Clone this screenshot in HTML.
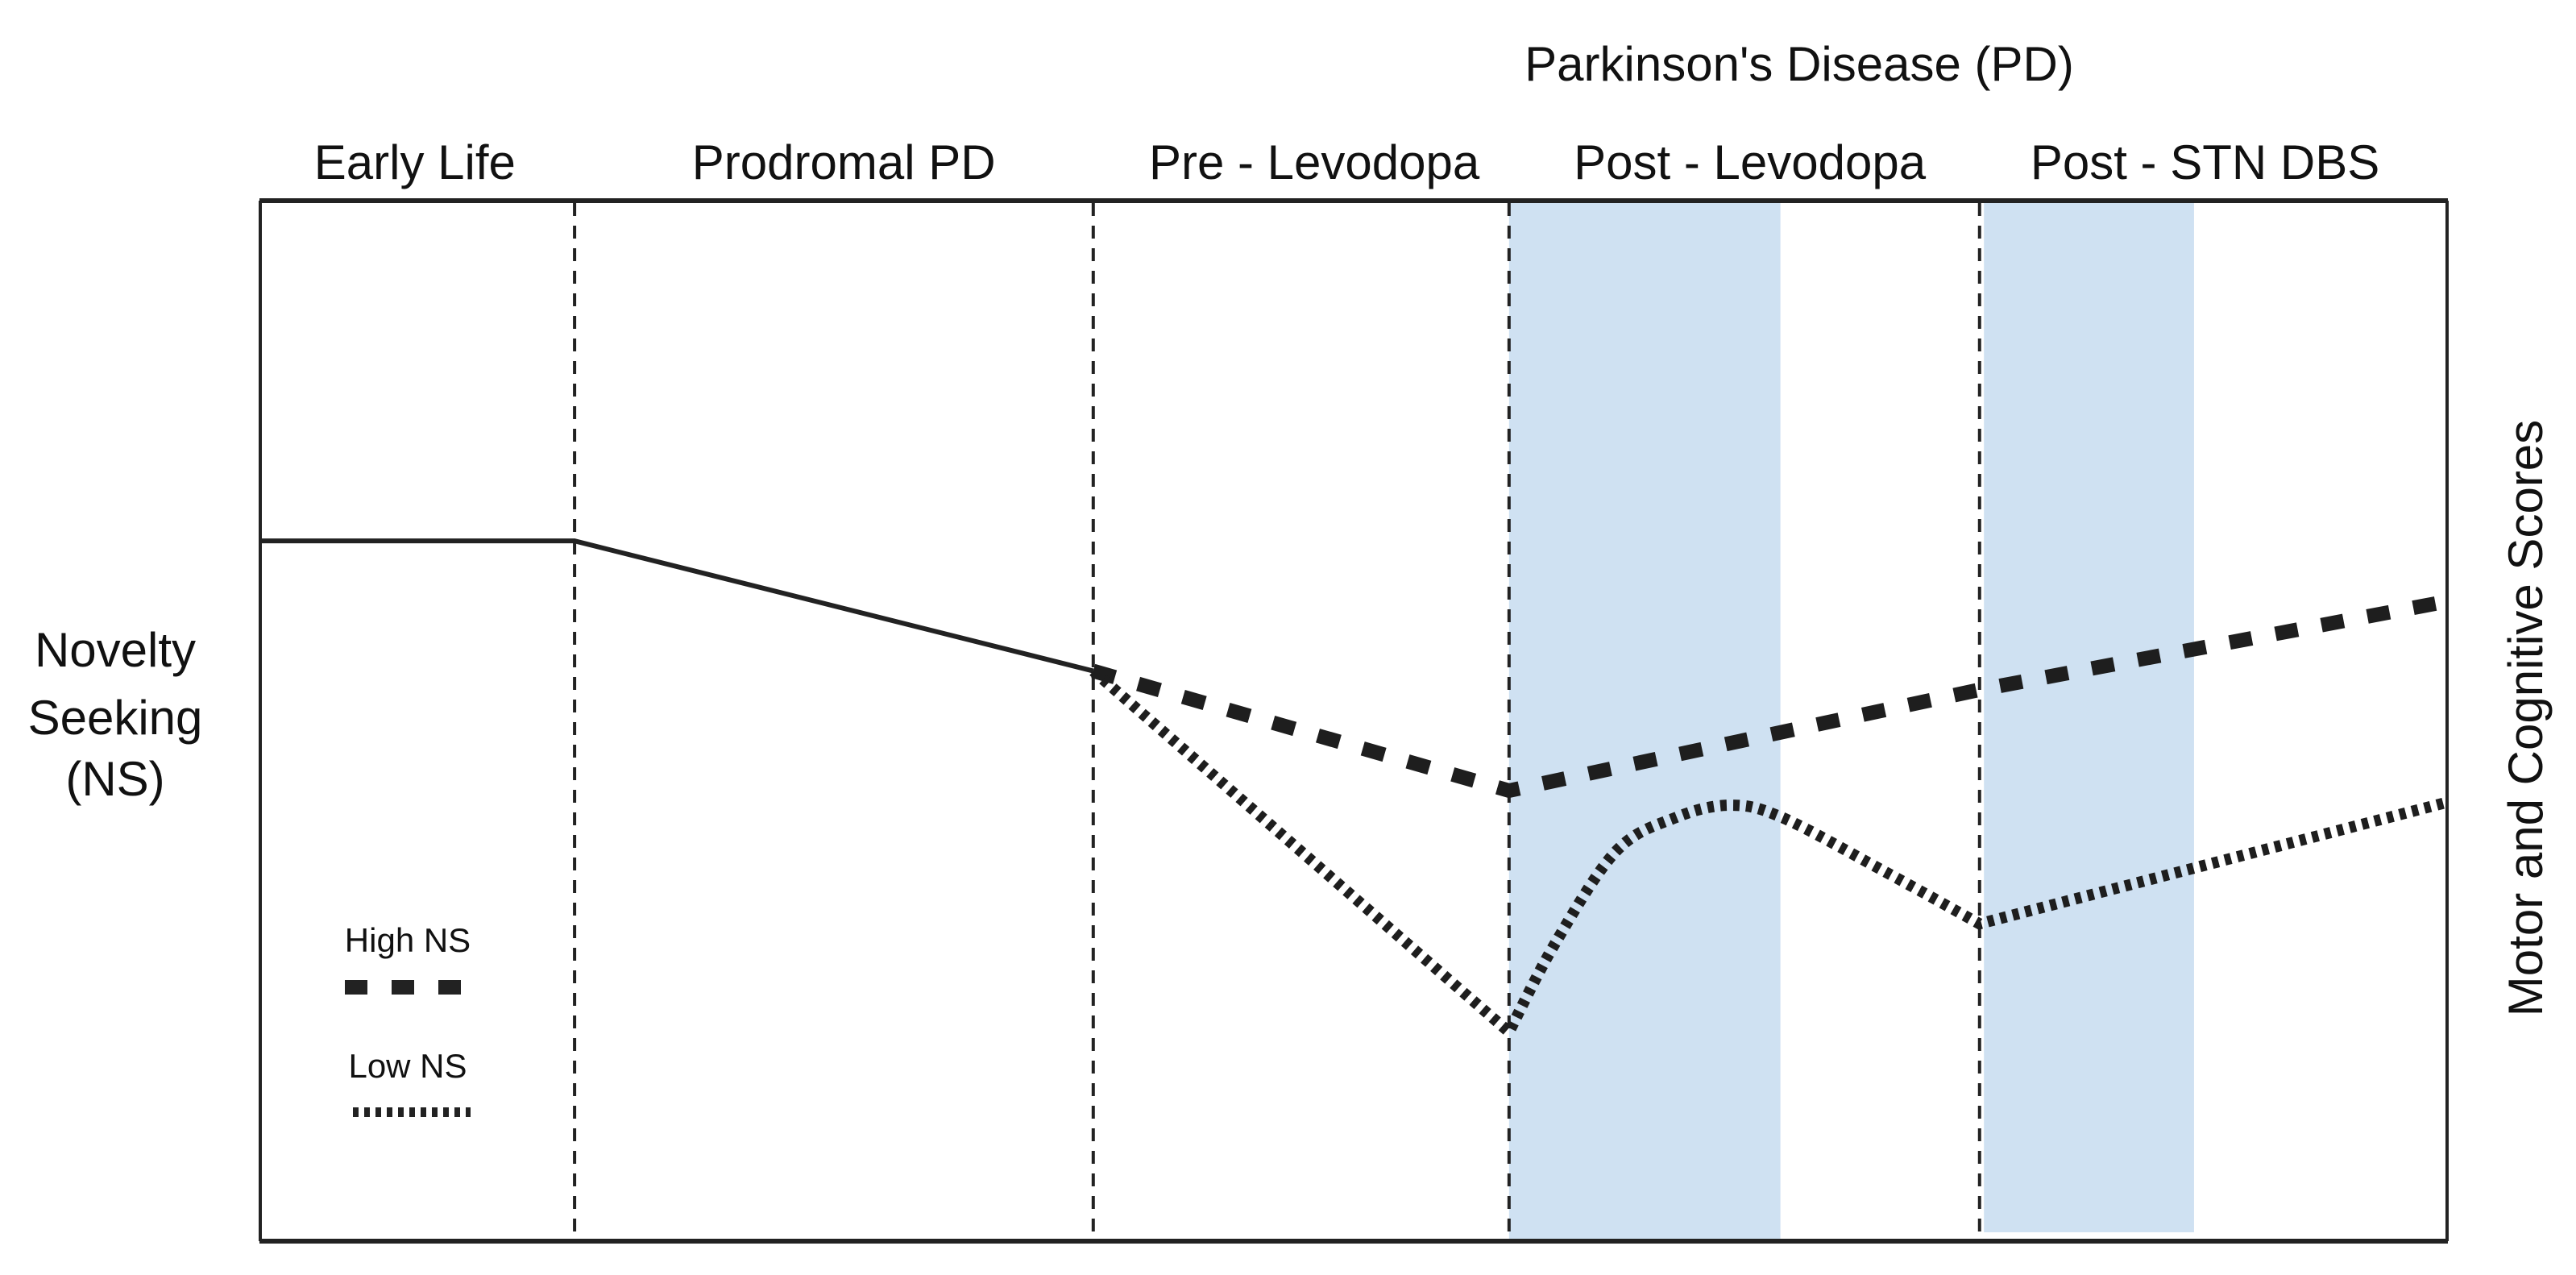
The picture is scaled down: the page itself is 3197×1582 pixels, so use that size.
<!DOCTYPE html>
<html><head><meta charset="utf-8"><style>
html,body{margin:0;padding:0;background:#fff;}
svg{display:block;font-family:"Liberation Sans",sans-serif;}
</style></head><body>
<svg id="chart" width="3197" height="1582" viewBox="0 0 3197 1582">
<g id="bands"></g>
<g id="dividers"></g>
<g id="frame">
  <line x1="322" y1="249" x2="3038" y2="249" stroke="#222" stroke-width="6"/>
  <line x1="322" y1="1540" x2="3038" y2="1540" stroke="#222" stroke-width="6"/>
  <line x1="323" y1="249" x2="323" y2="1540" stroke="#222" stroke-width="4"/>
  <line x1="3037" y1="249" x2="3037" y2="1540" stroke="#222" stroke-width="4"/>
</g>
<g id="series"></g>
<text x="2233" y="100" font-size="60" text-anchor="middle" fill="#111">Parkinson's Disease (PD)</text>
<g id="stagelabels"></g>
<g font-size="60" fill="#111" text-anchor="middle">
  <text x="143" y="827">Novelty</text>
  <text x="143" y="911">Seeking</text>
  <text x="143" y="987">(NS)</text>
</g>
<text transform="translate(3155,891) rotate(-90)" font-size="60" text-anchor="middle" fill="#111">Motor and Cognitive Scores</text>
<g>
  <text x="506" y="1181" font-size="42" text-anchor="middle" fill="#111">High NS</text>
  <line x1="428" y1="1225" x2="584" y2="1225" stroke="#222" stroke-width="18" stroke-dasharray="28,30"/>
  <text x="506" y="1337" font-size="42" text-anchor="middle" fill="#111">Low NS</text>
  <line x1="438" y1="1380" x2="584" y2="1380" stroke="#222" stroke-width="12" stroke-dasharray="7,7"/>
</g>
</svg>
<script>
const stageNames = ["Early Life","Prodromal PD","Pre - Levodopa","Post - Levodopa","Post - STN DBS"];
const stageLabelX = [7.1,26.7,48.2,68.1,88.9];
const dividerX = [14.4,38.1,57.1,78.6];
const bandStart = [57.1,78.8];
const bandEnd = [69.5,88.4];
const solidX = [0,14.4,38.1];
const solidY = [67.3,67.3,54.8];
const highX = [38.1,57.1,78.6,100];
const highY = [54.8,43.3,53.0,61.5];
const lowX = [38.1,57.1,59.2,62.0,64.7,67.2,69.6,74.2,78.6,100];
const lowY = [54.8,20.1,28.6,37.5,40.7,41.9,40.7,35.6,30.5,42.2];

const NS="http://www.w3.org/2000/svg";
const x = v => 322 + v*27.16;
const y = v => 1540 - v*12.91;
function mk(tag, attrs, parent){const e=document.createElementNS(NS,tag);for(const k in attrs)e.setAttribute(k,attrs[k]);parent.appendChild(e);return e;}

const bands=document.getElementById('bands');
bandStart.forEach((s,i)=>{
  const r=mk('rect',{x:x(s),y:249,width:x(bandEnd[i])-x(s),height:i==0?1291:1280,fill:'#cfe1f2'},bands);
  
  
});
const div=document.getElementById('dividers');
dividerX.forEach((d,i)=>{
  const l=mk('line',{x1:x(d),x2:x(d),y1:252,y2:1538,stroke:'#222','stroke-width':4,'stroke-dasharray':'16,12'},div);
  
  
});
const sl=document.getElementById('stagelabels');
stageNames.forEach((n,i)=>{
  const t=mk('text',{x:x(stageLabelX[i]),y:222,'font-size':60,'text-anchor':'middle',fill:'#111'},sl);
  t.textContent=n;
  
  
});
function pathFrom(xs,ys,smooth){
  const p=xs.map((v,i)=>[x(v),y(ys[i])]);
  if(!smooth) return 'M'+p.map(q=>q.join(',')).join(' L');
  // straight first and last segments; smooth interior between p[1] and p[n-2]
  const n=p.length;
  let d='M'+p[0].join(',')+' L'+p[1].join(',');
  for(let i=1;i<n-2;i++){
    const p0=i===1?p[i]:p[i-1],p1=p[i],p2=p[i+1],p3=(i+2>=n-1)?p[i+1]:p[i+2];
    const c1=[p1[0]+(p2[0]-p0[0])/6,p1[1]+(p2[1]-p0[1])/6];
    const c2=[p2[0]-(p3[0]-p1[0])/6,p2[1]-(p3[1]-p1[1])/6];
    d+=' C'+c1.join(',')+' '+c2.join(',')+' '+p2.join(',');
  }
  d+=' L'+p[n-1].join(',');
  return d;
}
const sg=document.getElementById('series');
const s1=mk('path',{d:pathFrom(solidX,solidY),fill:'none',stroke:'#222','stroke-width':6},sg);


const s2=mk('path',{d:pathFrom(highX,highY),fill:'none',stroke:'#1e1e1e','stroke-width':18,'stroke-dasharray':'28,30'},sg);


const s3=mk('path',{d:pathFrom(lowX,lowY,true),fill:'none',stroke:'#1e1e1e','stroke-width':14,'stroke-dasharray':'8,8'},sg);


</script>
</body></html>
